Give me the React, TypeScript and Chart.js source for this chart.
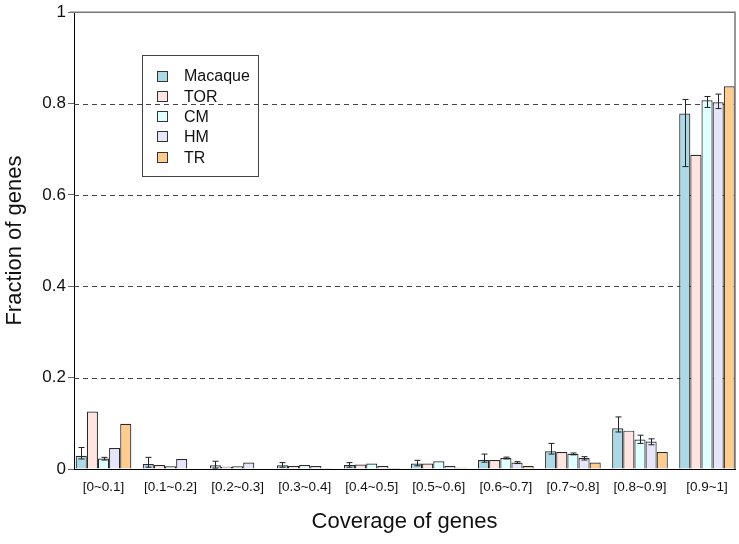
import React, { useEffect, useRef } from "react";
import { Chart, registerables } from "chart.js";
Chart.register(...registerables);

const categories = ["[0~0.1]", "[0.1~0.2]", "[0.2~0.3]", "[0.3~0.4]", "[0.4~0.5]", "[0.5~0.6]", "[0.6~0.7]", "[0.7~0.8]", "[0.8~0.9]", "[0.9~1]"];
const seriesNames = ["Macaque", "TOR", "CM", "HM", "TR"];
const seriesColors = ["#ADD8E6", "#FFE4E1", "#E0FFFF", "#E6E6FA", "#FFCC90"];

const macaque = [0.029, 0.011, 0.008, 0.008, 0.0087, 0.012, 0.0196, 0.039, 0.089, 0.778];
const tor = [0.126, 0.0087, 0.005, 0.0065, 0.010, 0.012, 0.0196, 0.037, 0.084, 0.688];
const cm = [0.023, 0.006, 0.006, 0.0087, 0.012, 0.017, 0.024, 0.0334, 0.0646, 0.807];
const hm = [0.046, 0.022, 0.014, 0.0065, 0.0065, 0.0065, 0.014, 0.024, 0.060, 0.803];
const tr = [0.099, 0.001, 0.001, 0.0015, 0.002, 0.003, 0.0065, 0.014, 0.037, 0.838];

const macaqueLow = [0.022, 0.004, 0.002, 0.004, 0.004, 0.007, 0.015, 0.0327, 0.081, 0.662];
const macaqueHigh = [0.047, 0.0255, 0.017, 0.014, 0.014, 0.019, 0.0327, 0.056, 0.114, 0.809];
const cmLow = [0.0196, null, null, null, null, null, 0.022, 0.031, 0.056, 0.7915];
const cmHigh = [0.0255, null, null, null, null, null, 0.026, 0.035, 0.074, 0.8155];
const hmLow = [null, null, null, null, null, null, 0.012, 0.0196, 0.053, 0.789];
const hmHigh = [null, null, null, null, null, null, 0.016, 0.027, 0.066, 0.8207];

const yTicks = [0, 0.2, 0.4, 0.6, 0.8, 1];
const gridValues = [0.2, 0.4, 0.6, 0.8];

const seriesValues = [macaque, tor, cm, hm, tr];
const seriesLow: (number | null)[][] = [macaqueLow, categories.map(() => null), cmLow, hmLow, categories.map(() => null)];
const seriesHigh: (number | null)[][] = [macaqueHigh, categories.map(() => null), cmHigh, hmHigh, categories.map(() => null)];

const FONT = "'Liberation Sans', Arial, Helvetica, sans-serif";

const decorPlugin = {
  id: "decor",
  beforeDatasetsDraw(chart: any) {
    const { ctx, chartArea, scales } = chart;
    const y = scales.y;
    ctx.save();
    ctx.strokeStyle = "#444";
    ctx.lineWidth = 1;
    ctx.setLineDash([5, 4]);
    gridValues.forEach((v) => {
      const py = Math.round(y.getPixelForValue(v)) + 0.5;
      ctx.beginPath();
      ctx.moveTo(chartArea.left, py);
      ctx.lineTo(chartArea.right, py);
      ctx.stroke();
    });
    ctx.restore();
  },
  afterDatasetsDraw(chart: any) {
    const { ctx, chartArea, scales } = chart;
    const y = scales.y;
    ctx.save();
    ctx.strokeStyle = "#222";
    ctx.lineWidth = 1;
    seriesValues.forEach((_, d) => {
      const meta = chart.getDatasetMeta(d);
      meta.data.forEach((bar: any, i: number) => {
        const lo = seriesLow[d][i];
        const hi = seriesHigh[d][i];
        if (lo == null || hi == null) return;
        const x = Math.round(bar.x) + 0.5;
        const y1 = y.getPixelForValue(lo);
        const y2 = y.getPixelForValue(hi);
        ctx.beginPath();
        ctx.moveTo(x, y1);
        ctx.lineTo(x, y2);
        ctx.moveTo(x - 3, y1);
        ctx.lineTo(x + 3, y1);
        ctx.moveTo(x - 3, y2);
        ctx.lineTo(x + 3, y2);
        ctx.stroke();
      });
    });
    ctx.strokeStyle = "#777";
    ctx.lineWidth = 1.5;
    ctx.beginPath();
    ctx.moveTo(chartArea.left - 4, chartArea.top);
    ctx.lineTo(chartArea.right, chartArea.top);
    ctx.lineTo(chartArea.right, chartArea.bottom);
    ctx.stroke();
    ctx.restore();
  },
  afterDraw(chart: any) {
    const { ctx } = chart;
    ctx.save();
    const bx = 142, by = 55, bw = 116, bh = 121;
    ctx.strokeStyle = "#444";
    ctx.lineWidth = 1;
    ctx.strokeRect(bx + 0.5, by + 0.5, bw, bh);
    ctx.font = `16px ${FONT}`;
    ctx.textBaseline = "middle";
    ctx.textAlign = "left";
    chart.data.datasets.forEach((ds: any, i: number) => {
      const cy = 76 + i * 20.3;
      ctx.fillStyle = ds.backgroundColor;
      ctx.fillRect(157, Math.round(cy - 5.5), 11, 11);
      ctx.strokeStyle = "#333";
      ctx.strokeRect(157.5, Math.round(cy - 5.5) + 0.5, 10, 10);
      ctx.fillStyle = "#111";
      ctx.fillText(ds.label, 184, cy + 1);
    });
    ctx.restore();
  },
};

export default function App() {
  const canvasRef = useRef<HTMLCanvasElement | null>(null);

  useEffect(() => {
    document.body.style.margin = "0";
    const canvas = canvasRef.current;
    if (!canvas) return;
    const chart = new Chart(canvas, {
      type: "bar",
      data: {
        datasets: seriesNames.map((name, d) => ({
          label: name,
          data: seriesValues[d].map((v, i) => ({ x: i, y: v })),
          backgroundColor: seriesColors[d],
          borderColor: "#2a2a2a",
          borderWidth: 1.2,
          categoryPercentage: 0.83,
          barPercentage: 1,
        })),
      },
      options: {
        responsive: false,
        animation: false,
        events: [],
        layout: { padding: { top: 10, right: 4, left: 0, bottom: 0 } },
        plugins: {
          legend: { display: false },
          tooltip: { enabled: false },
        },
        scales: {
          x: {
            type: "linear",
            min: -0.44,
            max: 9.417,
            offset: false,
            afterFit: (s: any) => {
              s.height = 75;
            },
            afterBuildTicks: (s: any) => {
              s.ticks = categories.map((_, i) => ({ value: i }));
            },
            grid: { display: false, drawTicks: false, offset: false },
            border: { display: true, color: "#000", width: 1 },
            ticks: {
              autoSkip: false,
              maxRotation: 0,
              padding: 10,
              color: "#111",
              font: { family: FONT, size: 13.5 },
              callback: (v: any) => categories[v as number] ?? "",
            },
            title: {
              display: true,
              text: "Coverage of genes",
              color: "#111",
              font: { family: FONT, size: 22 },
              padding: { top: 0, bottom: 9 },
            },
          },
          y: {
            min: 0,
            max: 1,
            afterFit: (s: any) => {
              s.width = 74;
            },
            afterBuildTicks: (s: any) => {
              s.ticks = yTicks.map((v) => ({ value: v }));
            },
            grid: {
              display: true,
              drawOnChartArea: false,
              drawTicks: true,
              tickLength: 6,
              tickColor: "#666",
            },
            border: { display: true, color: "#000", width: 1 },
            ticks: {
              padding: 2,
              color: "#111",
              font: { family: FONT, size: 17 },
              callback: (v: any) => String(v),
            },
            title: {
              display: true,
              text: "Fraction of genes",
              color: "#111",
              font: { family: FONT, size: 22 },
              padding: { top: 2, bottom: 0 },
            },
          },
        },
      },
      plugins: [decorPlugin],
    });
    return () => chart.destroy();
  }, []);

  return (
    <div style={{ width: 739, height: 544, position: "relative" }}>
      <canvas ref={canvasRef} width={739} height={544} style={{ display: "block" }} />
    </div>
  );
}
